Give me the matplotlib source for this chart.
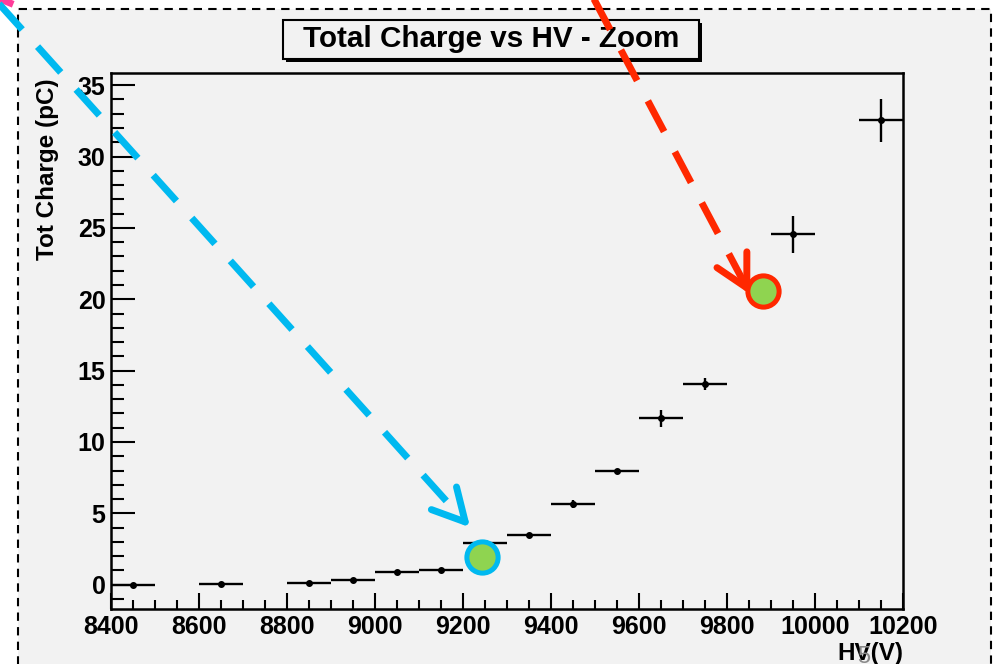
import numpy as np
import matplotlib
matplotlib.use("Agg")
import matplotlib.pyplot as plt
from matplotlib.patches import Rectangle
from matplotlib.ticker import MultipleLocator

plt.rcParams['font.family'] = ['Liberation Sans', 'DejaVu Sans']

# --------- data ---------
hv = [8450, 8650, 8850, 8950, 9050, 9150, 9250, 9350, 9450, 9550, 9650, 9750, 9950, 10150]
charge = [0.0, 0.05, 0.15, 0.3, 0.9, 1.0, 2.95, 3.45, 5.65, 7.95, 11.65, 14.05, 24.55, 32.55]
charge_err = [0.05, 0.05, 0.05, 0.05, 0.1, 0.1, 0.1, 0.15, 0.3, 0.15, 0.6, 0.4, 1.3, 1.5]
hv_err = [50] * len(hv)

# highlighted points + arrows drawn on top of the slide
marks_hv = [9243, 9882]
marks_q = [1.95, 20.6]
marks_col = ['#00b9f0', '#ff2800']
arrow_tail = [(8125, 41.4), (9493, 41.3)]
arrow_tip = [(9205, 4.4), (9845, 20.8)]

W, H = 995, 664
fig = plt.figure(figsize=(W / 100, H / 100), dpi=100)
fig.patch.set_facecolor('white')

# slide canvas with dashed frame
fig.patches.append(Rectangle((18 / W, -0.05), (991 - 18) / W, 1.05 - 9 / H,
                             transform=fig.transFigure, facecolor='#f2f2f2',
                             edgecolor='black', lw=1.5, ls=(0, (4, 3)), zorder=-1))

ax = fig.add_axes([111 / W, (H - 609) / H, (903 - 111) / W, (609 - 73) / H])
ax.set_zorder(3)
ax.set_facecolor('#f2f2f2')
ax.errorbar(hv, charge, xerr=hv_err, yerr=charge_err, fmt='o', color='black',
            ms=4, elinewidth=1.7, capsize=0, zorder=3)

ax.set_xlim(8400, 10200)
ax.set_ylim(-1.7, 35.85)
ax.xaxis.set_major_locator(MultipleLocator(200))
ax.xaxis.set_minor_locator(MultipleLocator(50))
ax.yaxis.set_major_locator(MultipleLocator(5))
ax.yaxis.set_minor_locator(MultipleLocator(1))
ax.tick_params(which='both', direction='in', width=1.5, labelsize=18, pad=4)
ax.tick_params(axis='x', which='major', length=11.5)
ax.tick_params(axis='x', which='minor', length=6.5)
ax.tick_params(axis='y', which='major', length=17)
ax.tick_params(axis='y', which='minor', length=9.5)
for lab in ax.get_xticklabels() + ax.get_yticklabels():
    lab.set_fontweight('bold')
for sp in ax.spines.values():
    sp.set_linewidth(1.8)

# title box with shadow
fig.patches.append(Rectangle((286 / W, 1 - 62 / H), (699 - 283) / W, (59 - 20) / H,
                             transform=fig.transFigure, facecolor='black',
                             edgecolor='black', lw=0, zorder=1))
fig.patches.append(Rectangle((283 / W, 1 - 59 / H), (699 - 283) / W, (59 - 20) / H,
                             transform=fig.transFigure, facecolor='#f2f2f2',
                             edgecolor='black', lw=1.5, zorder=2))
fig.text(491 / W, 1 - 39 / H, 'Total Charge vs HV - Zoom', ha='center', va='center',
         fontsize=21.3, fontweight='bold', zorder=2.5)

fig.text(48 / W, 1 - 78 / H, 'Tot Charge (pC)', rotation=90, ha='center', va='top',
         fontsize=17.5, fontweight='bold')
fig.text(903 / W, 1 - 642 / H, 'HV(V)', ha='right', va='top',
         fontsize=17.5, fontweight='bold')
fig.text(864 / W, 1 - 646 / H, '5', ha='center', va='top', fontsize=17, color='#8a8a8a')

# overlay arrows and circles
for (x0, y0), (x1, y1), c in zip(arrow_tail, arrow_tip, marks_col):
    ax.plot([x0, x1], [y0, y1], color=c, lw=5, ls=(0, (5, 3.3)),
            dash_capstyle='butt', clip_on=False, zorder=5)
    # open V head
    p1 = ax.transData.transform((x1, y1))
    p0 = ax.transData.transform((x0, y0))
    d = (p1 - p0) / np.hypot(*(p1 - p0))
    for ang in (np.deg2rad(28), -np.deg2rad(28)):
        rot = np.array([[np.cos(ang), -np.sin(ang)], [np.sin(ang), np.cos(ang)]])
        q = p1 - rot @ d * 36
        qd = ax.transData.inverted().transform(q)
        ax.plot([qd[0], x1], [qd[1], y1], color=c, lw=5, solid_capstyle='round',
                clip_on=False, zorder=5)

# pink stub in the corner
fig.add_artist(plt.Line2D([-2 / W, 10 / W], [1 + 2 / H, 1 - 3 / H], color='#ff3c9a',
                          lw=5, transform=fig.transFigure))

for x, y, c in zip(marks_hv, marks_q, marks_col):
    ax.plot(x, y, 'o', ms=22.5, mfc='#8fd450', mec=c, mew=3.6, clip_on=False, zorder=6)

fig.savefig('out.png', dpi=100, facecolor=fig.get_facecolor())
